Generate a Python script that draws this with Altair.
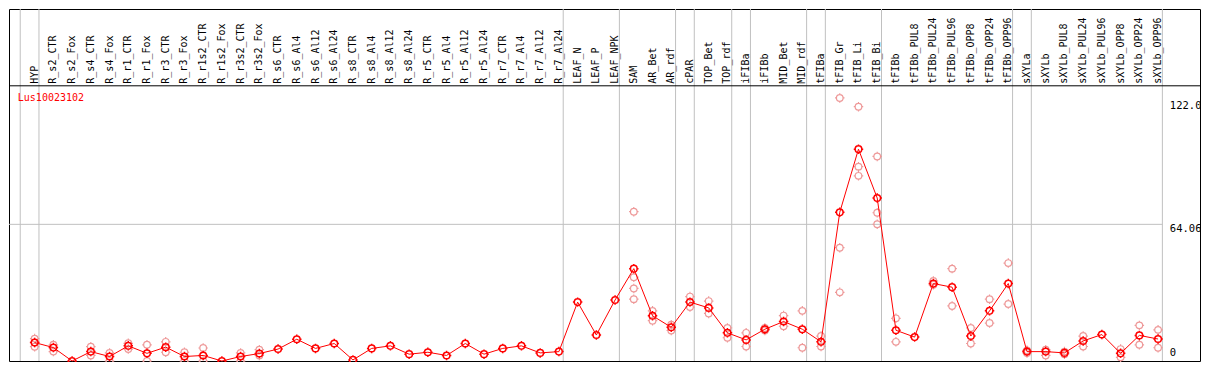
import altair as alt
import pandas as pd

# ---------------- data ----------------
categories = [
    "HYP", "R_s2_CTR", "R_s2_Fox", "R_s4_CTR", "R_s4_Fox", "R_r1_CTR", "R_r1_Fox",
    "R_r3_CTR", "R_r3_Fox", "R_r1s2_CTR", "R_r1s2_Fox", "R_r3s2_CTR", "R_r3s2_Fox",
    "R_s6_CTR", "R_s6_Al4", "R_s6_Al12", "R_s6_Al24", "R_s8_CTR", "R_s8_Al4",
    "R_s8_Al12", "R_s8_Al24", "R_r5_CTR", "R_r5_Al4", "R_r5_Al12", "R_r5_Al24",
    "R_r7_CTR", "R_r7_Al4", "R_r7_Al12", "R_r7_Al24", "LEAF_N", "LEAF_P", "LEAF_NPK",
    "SAM", "AR_Bet", "AR_rdf", "cPAR", "TOP_Bet", "TOP_rdf", "iFIBa", "iFIBb",
    "MID_Bet", "MID_rdf", "tFIBa", "tFIB_Gr", "tFIB_Li", "tFIB_Bi", "tFIBb",
    "tFIBb_PUL8", "tFIBb_PUL24", "tFIBb_PUL96", "tFIBb_OPP8", "tFIBb_OPP24",
    "tFIBb_OPP96", "sXYLa", "sXYLb", "sXYLb_PUL8", "sXYLb_PUL24", "sXYLb_PUL96",
    "sXYLb_OPP8", "sXYLb_OPP24", "sXYLb_OPP96",
]

means = [
    8.65, 6.3, 0.0, 4.4, 2.1, 7.1, 3.6, 6.5, 2.1, 2.6, 0.0, 2.1, 3.5, 5.6, 10.2,
    5.9, 8.2, 0.5, 5.9, 7.1, 3.2, 4.1, 2.6, 8.2, 3.2, 5.9, 7.1, 3.8, 4.4,
    27.6, 12.2, 28.6, 43.3, 21.2, 15.8, 27.6, 24.9, 13.2, 9.9, 14.9, 18.5, 14.9,
    9.0, 69.7, 99.3, 76.4, 14.4, 11.2, 36.3, 34.6, 11.7, 23.5, 36.3,
    4.4, 4.4, 3.8, 9.4, 12.4, 3.6, 12.0, 10.3,
]

rep_cats = [
    "HYP", "HYP", "HYP", "R_s2_CTR", "R_s2_CTR", "R_s4_CTR", "R_s4_CTR",
    "R_s4_Fox", "R_s4_Fox", "R_r1_CTR", "R_r1_CTR", "R_r1_Fox", "R_r1_Fox",
    "R_r3_CTR", "R_r3_CTR", "R_r3_Fox", "R_r3_Fox", "R_r1s2_CTR", "R_r1s2_CTR",
    "R_r3s2_CTR", "R_r3s2_CTR", "R_r3s2_Fox", "R_r3s2_Fox",
    "SAM", "SAM", "SAM", "SAM", "AR_Bet", "AR_Bet", "AR_rdf", "AR_rdf",
    "cPAR", "cPAR", "TOP_Bet", "TOP_Bet", "TOP_rdf", "TOP_rdf", "iFIBa", "iFIBa",
    "iFIBb", "iFIBb", "MID_Bet", "MID_Bet", "MID_rdf", "MID_rdf", "tFIBa", "tFIBa",
    "tFIB_Gr", "tFIB_Gr", "tFIB_Gr", "tFIB_Li", "tFIB_Li", "tFIB_Li",
    "tFIB_Bi", "tFIB_Bi", "tFIB_Bi", "tFIBb", "tFIBb", "tFIBb_PUL24", "tFIBb_PUL24",
    "tFIBb_PUL96", "tFIBb_PUL96", "tFIBb_OPP8", "tFIBb_OPP8", "tFIBb_OPP24",
    "tFIBb_OPP24", "tFIBb_OPP96", "tFIBb_OPP96", "sXYLa", "sXYLa", "sXYLb", "sXYLb",
    "sXYLb_PUL8", "sXYLb_PUL8", "sXYLb_PUL24", "sXYLb_PUL24", "sXYLb_OPP8",
    "sXYLb_OPP8", "sXYLb_OPP24", "sXYLb_OPP24", "sXYLb_OPP96", "sXYLb_OPP96",
]

rep_vals = [
    10.5, 8.7, 6.7, 7.6, 4.4, 6.7, 2.6,
    3.8, 0.0, 8.3, 5.6, 7.6, 0.0,
    9.0, 4.1, 4.1, 0.0, 6.1, 0.0,
    3.8, 0.0, 5.3, 2.6,
    70.0, 39.3, 34.0, 29.0, 23.5, 18.9, 17.0, 14.3,
    30.2, 25.3, 28.1, 22.3, 15.5, 10.9, 13.2, 6.8,
    15.5, 14.3, 21.3, 16.3, 23.5, 6.2, 11.7, 6.8,
    123.3, 53.1, 32.2, 119.2, 91.1, 86.8,
    95.9, 69.5, 64.1, 20.0, 9.0, 37.5, 35.7,
    43.3, 25.8, 15.5, 8.2, 29.0,
    17.8, 45.9, 26.7, 5.0, 3.8, 5.3, 2.6,
    4.4, 3.2, 11.7, 6.8, 5.6,
    1.7, 16.7, 7.6, 14.6, 6.2,
]

group_ends = ["HYP", "R_r7_Al24", "LEAF_NPK", "AR_rdf", "cPAR", "TOP_rdf", "iFIBa",
              "MID_rdf", "tFIBa", "tFIB_Bi", "tFIBb_OPP96", "sXYLa", "sXYLb_OPP96"]

y_tick_values = [122.0, 64.06]
y_tick_labels = ["122.0", "64.06"]
zero_label = "0"
gene_title = "Lus10023102"

# ---------------- layout ----------------
X_LO, X_HI = -1.37, 62.24
Y_TOP = 165.0
HEADER = 129.0
GRID_OFF = 0.23
LABEL_X = 60.63
TITLE_X, TITLE_Y = -0.9, 123.5
FONT = "DejaVu Sans Mono"
RED = "#ff0000"
PINK = "#ee9999"
GRAY = "#c0c0c0"

K = 0.3866
SHAPE = (f"M0.7,0C0.7,{K},{K},0.7,0,0.7C-{K},0.7,-0.7,{K},-0.7,0"
         f"C-0.7,-{K},-{K},-0.7,0,-0.7C{K},-0.7,0.7,-{K},0.7,0Z"
         "M0,-0.7L0,-1M0,0.7L0,1M-0.7,0L-1,0M0.7,0L1,0")

idx = {c: i for i, c in enumerate(categories)}
xs = alt.Scale(domain=[X_LO, X_HI], nice=False, zero=False)
ys = alt.Scale(domain=[0, Y_TOP], nice=False, zero=False)


def X(field):
    return alt.X(field, type="quantitative", scale=xs, axis=None)


def Y(field):
    return alt.Y(field, type="quantitative", scale=ys, axis=None)


main_df = pd.DataFrame({"x": list(range(len(categories))), "v": means, "cat": categories})
rep_df = pd.DataFrame({"x": [idx[c] for c in rep_cats], "v": rep_vals})

vgrid_x = [-1 + GRID_OFF] + [idx[c] + GRID_OFF for c in group_ends]
vgrid_df = pd.DataFrame({"x": vgrid_x, "y0": [0.0] * len(vgrid_x), "y1": [Y_TOP] * len(vgrid_x)})
hgrid_df = pd.DataFrame({"x0": [X_LO], "x1": [idx[group_ends[-1]] + GRID_OFF], "y": [y_tick_values[1]]})
header_df = pd.DataFrame({"x0": [X_LO], "x1": [X_HI], "y": [HEADER]})
catlab_df = pd.DataFrame({"x": list(range(len(categories))), "y": [HEADER + 1.0] * len(categories),
                          "t": categories})
title_df = pd.DataFrame({"x": [TITLE_X], "y": [TITLE_Y], "t": [gene_title]})
ylab_df = pd.DataFrame({"x": [LABEL_X] * len(y_tick_values), "y": y_tick_values, "t": y_tick_labels})
zero_df = pd.DataFrame({"x": [LABEL_X], "y": [0.0], "t": [zero_label]})

vgrid = alt.Chart(vgrid_df).mark_rule(color=GRAY, strokeWidth=1).encode(
    x=X("x"), y=Y("y0"), y2="y1")
hgrid = alt.Chart(hgrid_df).mark_rule(color=GRAY, strokeWidth=1).encode(
    x=X("x0"), x2="x1", y=Y("y"))
header = alt.Chart(header_df).mark_rule(color="black", strokeWidth=1).encode(
    x=X("x0"), x2="x1", y=Y("y"))
catlab = alt.Chart(catlab_df).mark_text(
    angle=270, align="left", baseline="middle", font=FONT, fontSize=10, color="black"
).encode(x=X("x"), y=Y("y"), text="t:N")
title = alt.Chart(title_df).mark_text(
    align="left", baseline="middle", font=FONT, fontSize=10, color=RED
).encode(x=X("x"), y=Y("y"), text="t:N")
ylab = alt.Chart(ylab_df).mark_text(
    align="left", baseline="top", font=FONT, fontSize=10.5, color="black"
).encode(x=X("x"), y=Y("y"), text="t:N")
zlab = alt.Chart(zero_df).mark_text(
    align="left", baseline="bottom", dy=-3, font=FONT, fontSize=10.5, color="black"
).encode(x=X("x"), y=Y("y"), text="t:N")

reps = alt.Chart(rep_df).mark_point(
    shape=SHAPE, size=90, filled=False, stroke=PINK, strokeWidth=1.2, opacity=1
).encode(x=X("x"), y=Y("v"))
line = alt.Chart(main_df).mark_line(color=RED, strokeWidth=1).encode(
    x=X("x"), y=Y("v"), order="x:Q")
pts = alt.Chart(main_df).mark_point(
    shape=SHAPE, size=90, filled=False, stroke=RED, strokeWidth=1.5, opacity=1
).encode(x=X("x"), y=Y("v"))

chart = alt.layer(
    vgrid, hgrid, header, catlab, title, ylab, zlab, reps, line, pts
).properties(
    width=1191, height=352,
    autosize=alt.AutoSizeParams(type="none"),
    padding={"left": 1, "right": 1, "top": 1, "bottom": 1},
).configure_view(stroke="black", strokeWidth=1)

chart.save("out.html", embed_options={"renderer": "svg", "actions": False})
